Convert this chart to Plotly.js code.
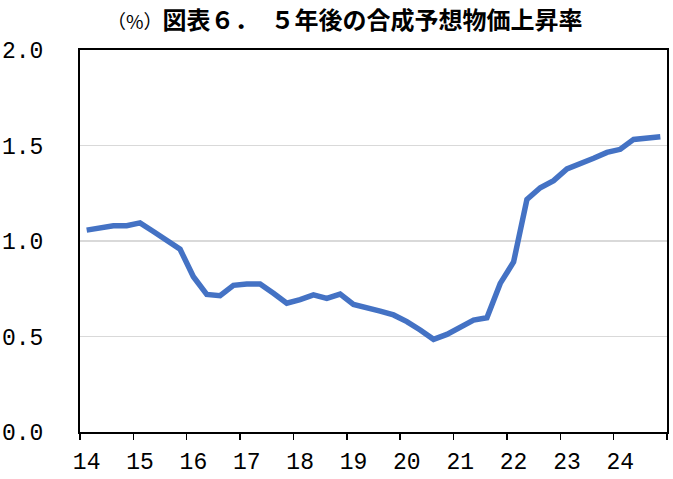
<!DOCTYPE html>
<html>
<head>
<meta charset="utf-8">
<script src="https://cdn.plot.ly/plotly-3.0.1.min.js"></script>
<style>html,body{margin:0;padding:0;background:#fff;}#chart{width:673px;height:479px;}</style>
</head>
<body>
<div id="chart"></div>
<script>
// Quarterly, 2014Q1 .. 2024Q4
const quarters = [
  "2014Q1","2014Q2","2014Q3","2014Q4","2015Q1","2015Q2","2015Q3","2015Q4",
  "2016Q1","2016Q2","2016Q3","2016Q4","2017Q1","2017Q2","2017Q3","2017Q4",
  "2018Q1","2018Q2","2018Q3","2018Q4","2019Q1","2019Q2","2019Q3","2019Q4",
  "2020Q1","2020Q2","2020Q3","2020Q4","2021Q1","2021Q2","2021Q3","2021Q4",
  "2022Q1","2022Q2","2022Q3","2022Q4","2023Q1","2023Q2","2023Q3","2023Q4",
  "2024Q1","2024Q2","2024Q3","2024Q4"
];
const expectedInflation = [
  1.057,1.070,1.080,1.080,1.095,1.050,1.005,0.957,
  0.813,0.720,0.714,0.768,0.775,0.775,0.726,0.674,
  0.693,0.718,0.700,0.722,0.668,0.647,0.633,0.613,
  0.578,0.534,0.485,0.511,0.551,0.586,0.598,0.778,
  0.890,1.218,1.279,1.316,1.377,1.403,1.433,1.464,
  1.480,1.532,1.539,1.546
];
const yearLabels = ["14","15","16","17","18","19","20","21","22","23","24"];
const titleUnit = "（%）";
const titleText = "図表６．　５年後の合成予想物価上昇率";

const idx = quarters.map((q, i) => i);
const labelPos = yearLabels.map((y, i) => i * 4);
const tickPos = yearLabels.map((y, i) => i * 4 - 0.5).concat([quarters.length - 0.5]);

const trace = {
  x: idx,
  y: expectedInflation,
  type: "scatter",
  mode: "lines",
  line: { color: "#4472C4", width: 5.5, shape: "linear" },
  hoverinfo: "skip"
};

const tickFont = { family: "Liberation Mono, DejaVu Sans Mono, monospace", size: 23, color: "#000" };

const layout = {
  width: 673,
  height: 479,
  margin: { l: 80, r: 6, t: 50, b: 47 },
  paper_bgcolor: "#fff",
  plot_bgcolor: "#fff",
  showlegend: false,
  title: {
    text: "<span style='font-size:19px;font-weight:normal'>" + titleUnit + "</span><b>" + titleText + "</b>",
    font: { family: "Noto Sans CJK JP", size: 24, color: "#000" },
    xref: "container", x: 107 / 673, xanchor: "left",
    yref: "container", y: 1 - 21 / 479, yanchor: "middle"
  },
  xaxis: {
    range: [-0.5, quarters.length - 0.5],
    tickmode: "array",
    tickvals: labelPos,
    ticktext: yearLabels,
    ticks: "",
    ticklabelstandoff: 7,
    tickfont: tickFont,
    showgrid: false,
    zeroline: false,
    showline: true,
    linecolor: "#000",
    linewidth: 2,
    mirror: true,
    minor: {
      tickmode: "array",
      tickvals: tickPos,
      ticks: "outside",
      ticklen: 6,
      tickwidth: 1.5,
      tickcolor: "#000",
      showgrid: false
    }
  },
  yaxis: {
    range: [0, 2.0],
    tickmode: "array",
    tickvals: [0, 0.5, 1.0, 1.5, 2.0],
    tickformat: ".1f",
    ticks: "",
    ticklabelstandoff: 30,
    tickfont: tickFont,
    showgrid: true,
    gridcolor: "#d9d9d9",
    gridwidth: 1.5,
    zeroline: false,
    showline: true,
    linecolor: "#000",
    linewidth: 2,
    mirror: true
  }
};

Plotly.newPlot("chart", [trace], layout, { staticPlot: true, displayModeBar: false });
</script>
</body>
</html>
